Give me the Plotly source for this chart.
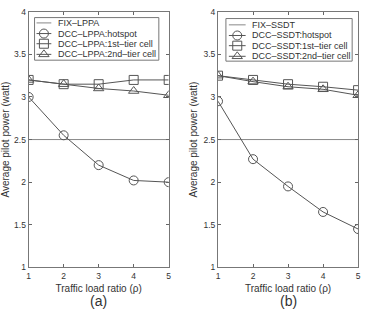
import plotly.graph_objects as go

x = [1, 2, 3, 4, 5]
fix_a = [2.5, 2.5, 2.5, 2.5, 2.5]
hot_a = [3.0, 2.55, 2.2, 2.02, 2.0]
t1_a = [3.2, 3.15, 3.15, 3.2, 3.2]
t2_a = [3.2, 3.15, 3.1, 3.07, 3.02]

fix_b = [2.5, 2.5, 2.5, 2.5, 2.5]
hot_b = [2.95, 2.27, 1.95, 1.65, 1.45]
t1_b = [3.25, 3.2, 3.15, 3.12, 3.08]
t2_b = [3.25, 3.18, 3.12, 3.09, 3.02]

names_a = ["FIX\u2013LPPA", "DCC\u2013LPPA:hotspot", "DCC\u2013LPPA:1st\u2013tier cell", "DCC\u2013LPPA:2nd\u2013tier cell"]
names_b = ["FIX\u2013SSDT", "DCC\u2013SSDT:hotspot", "DCC\u2013SSDT:1st\u2013tier cell", "DCC\u2013SSDT:2nd\u2013tier cell"]

LC = "#555555"
FIXC = "#888888"
TXT = "#333333"
FONT = "Liberation Sans, Arial, sans-serif"
SYMS = [None, "circle-open", "square-open", "triangle-up-open"]

fig = go.Figure()

def add(series, xa, ya):
    fig.add_trace(go.Scatter(x=x, y=series[0], mode="lines",
                             line=dict(color=FIXC, width=1), xaxis=xa, yaxis=ya, showlegend=False))
    for ys, sym in zip(series[1:], SYMS[1:]):
        fig.add_trace(go.Scatter(x=x, y=ys, mode="lines+markers",
                                 line=dict(color=LC, width=1),
                                 marker=dict(symbol=sym, size=9, color=LC, line=dict(width=1, color=LC)),
                                 xaxis=xa, yaxis=ya, showlegend=False))

add((fix_a, hot_a, t1_a, t2_a), "x", "y")
add((fix_b, hot_b, t1_b, t2_b), "x2", "y2")

# hand-drawn legends on an overlay axis in pixel units
shapes = []
annotations = []
def legend(names, bx0, by0, bx1, by1, rows, lx0, lx1, tx):
    shapes.append(dict(type="rect", xref="x3", yref="y3", x0=bx0, y0=by0, x1=bx1, y1=by1,
                       line=dict(color="#777777", width=1), fillcolor="white", layer="below"))
    for i, (nm, ry) in enumerate(zip(names, rows)):
        col = FIXC if i == 0 else LC
        fig.add_trace(go.Scatter(x=[lx0, lx1], y=[ry, ry], mode="lines", line=dict(color=col, width=1),
                                 xaxis="x3", yaxis="y3", showlegend=False, hoverinfo="skip"))
        if SYMS[i]:
            fig.add_trace(go.Scatter(x=[(lx0 + lx1) / 2], y=[ry], mode="markers",
                                     marker=dict(symbol=SYMS[i], size=9, color=LC, line=dict(width=1, color=LC)),
                                     xaxis="x3", yaxis="y3", showlegend=False, hoverinfo="skip"))
        annotations.append(dict(text=nm, x=tx, y=ry, xref="x3", yref="y3", xanchor="left", yanchor="middle",
                                showarrow=False, font=dict(size=9, color=TXT, family=FONT)))

legend(names_a, 33, 13, 159, 57, [18.5, 29.5, 40, 51], 35, 50, 55)
legend(names_b, 227, 14, 355, 58, [20.5, 31.5, 42, 53], 230, 247, 251)

ax = dict(range=[1, 5], tickvals=[1, 2, 3, 4, 5], ticks="inside", ticklen=3, tickcolor="#666666",
          showline=True, linecolor="#777777", linewidth=1, mirror="ticks", showgrid=False, zeroline=False,
          tickfont=dict(size=8.5, color=TXT, family=FONT),
          title=dict(text="Traffic load ratio (\u03c1)", font=dict(size=10, color=TXT, family=FONT), standoff=5))
ay = dict(range=[1, 4], tickvals=[1, 1.5, 2, 2.5, 3, 3.5, 4], ticktext=["1", "1.5", "2", "2.5", "3", "3.5", "4"],
          ticks="inside", ticklen=3, tickcolor="#666666",
          showline=True, linecolor="#777777", linewidth=1, mirror="ticks", showgrid=False, zeroline=False,
          tickfont=dict(size=8.5, color=TXT, family=FONT),
          title=dict(text="Average pilot power (watt)", font=dict(size=10, color=TXT, family=FONT), standoff=3))

annotations += [
    dict(text="(a)", x=98/367, y=1-306/313, xref="paper", yref="paper", showarrow=False,
         xanchor="center", yanchor="middle", font=dict(size=14, color=TXT, family=FONT)),
    dict(text="(b)", x=290/367, y=1-306/313, xref="paper", yref="paper", showarrow=False,
         xanchor="center", yanchor="middle", font=dict(size=14, color=TXT, family=FONT)),
]

fig.update_layout(
    width=367, height=313, margin=dict(l=0, r=0, t=0, b=0),
    paper_bgcolor="white", plot_bgcolor="rgba(0,0,0,0)", showlegend=False,
    xaxis=dict(ax, domain=[27/367, 169/367], anchor="y"),
    yaxis=dict(ay, domain=[1-271/313, 1-7/313], anchor="x"),
    xaxis2=dict(ax, domain=[219/367, 361/367], anchor="y2"),
    yaxis2=dict(ay, domain=[1-271/313, 1-7/313], anchor="x2"),
    xaxis3=dict(domain=[0, 1], range=[0, 367], visible=False, anchor="y3", fixedrange=True),
    yaxis3=dict(domain=[0, 1], range=[313, 0], visible=False, anchor="x3", fixedrange=True),
    shapes=shapes,
    annotations=annotations,
)

fig.write_html("out.html")
